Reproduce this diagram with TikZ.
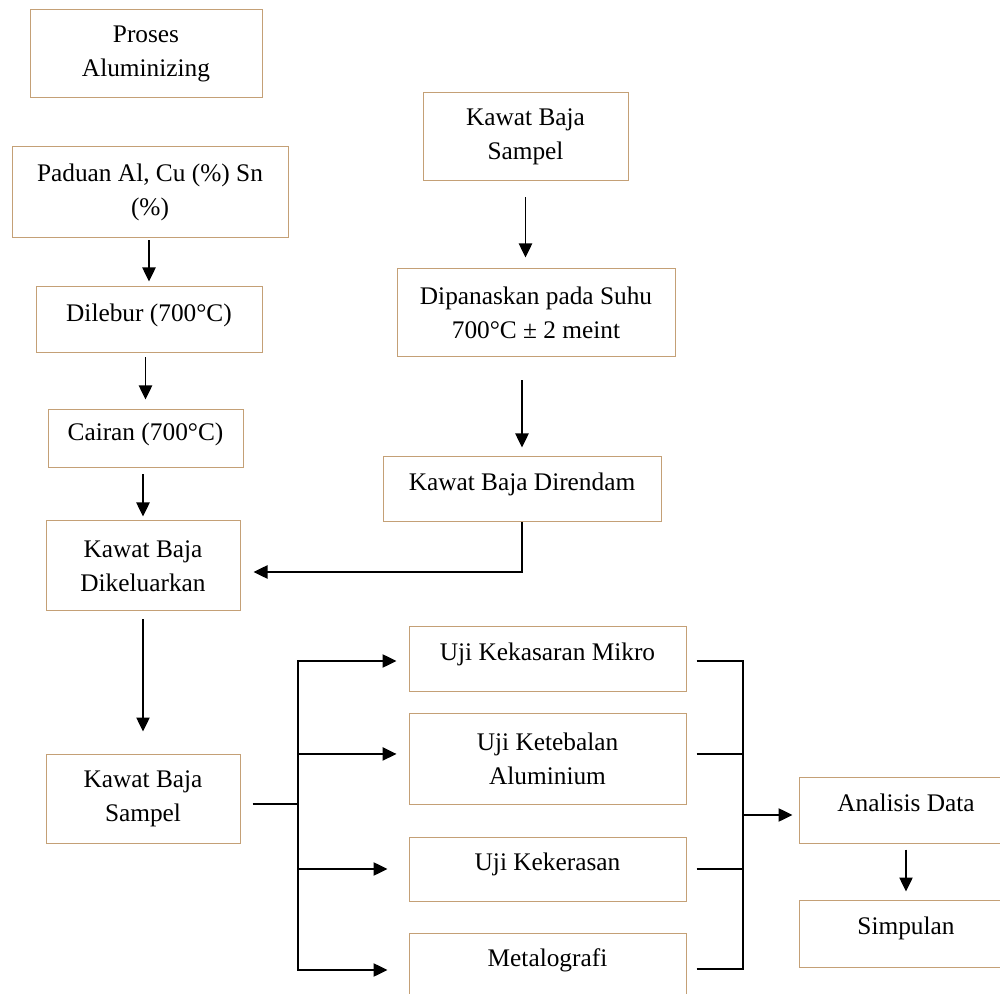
\documentclass[tikz,border=0pt]{standalone}
\usepackage{fontspec}
\setmainfont{Liberation Serif}
\usetikzlibrary{arrows.meta}
\definecolor{boxline}{RGB}{196,160,118}
\tikzset{every picture/.style={line width=0.75pt}}
\tikzset{
	box/.style={draw=boxline, line width=0.75pt, align=center, inner sep=0pt,
		font=\fontsize{19}{25.5}\selectfont},
	oneline/.style={text height=0.75em, text depth=0.59em},
	link/.style={line width=1pt},
	flow/.style={line width=1pt, -{Triangle[length=10.5pt,width=10pt]}}}

\begin{document}
\begin{tikzpicture}[x=0.75pt,y=0.75pt,yscale=-1,xscale=1]
	\useasboundingbox (0,0) rectangle (1000,994);

	% Left column
	\node [box, minimum width=174pt, minimum height=66pt] (proses) at (146,54) {Proses\\Aluminizing};
	\node [box, minimum width=207pt, minimum height=68.25pt] (paduan) at (150,192.5) {Paduan Al, Cu (\%) Sn\\(\%)};
	\node [box, oneline, minimum width=169.5pt, minimum height=49.5pt] (dilebur) at (149,320) {Dilebur (700°C)};
	\node [box, oneline, minimum width=146.25pt, minimum height=43.5pt] (cairan) at (145.5,439) {Cairan (700°C)};
	\node [box, minimum width=145.5pt, minimum height=67.5pt] (keluar) at (143,566) {Kawat Baja\\Dikeluarkan};
	\node [box, minimum width=145.5pt, minimum height=66.75pt] (sampelB) at (143,798.5) {Kawat Baja\\Sampel};

	% Right column
	\node [box, minimum width=153.75pt, minimum height=66pt] (sampelA) at (525.5,137) {Kawat Baja\\Sampel};
	\node [box, minimum width=208.5pt, minimum height=66pt] (panas) at (536,313) {Dipanaskan pada Suhu\\700°C ± 2 meint};
	\node [box, oneline, minimum width=208.5pt, minimum height=48.75pt] (rendam) at (522,489.5) {Kawat Baja Direndam};

	% Tests
	\node [box, oneline, minimum width=207.75pt, minimum height=48pt] (mikro) at (547.5,659) {Uji Kekasaran Mikro};
	\node [box, minimum width=207.75pt, minimum height=68.25pt] (tebal) at (547.5,758.5) {Uji Ketebalan\\Aluminium};
	\node [box, oneline, minimum width=207.75pt, minimum height=48pt] (keras) at (547.5,869) {Uji Kekerasan};
	\node [box, oneline, minimum width=207.75pt, minimum height=48pt] (metalo) at (547.5,965) {Metalografi};

	% Results
	\node [box, oneline, minimum width=160.5pt, minimum height=49.5pt] (analisis) at (906,810) {Analisis Data};
	\node [box, oneline, minimum width=160.5pt, minimum height=50.25pt] (simpulan) at (906,933.5) {Simpulan};

	% Arrows left column
	\draw [flow, shorten <=1.5pt, shorten >=3.75pt] (paduan.south -| dilebur) -- (dilebur.north);
	\draw [flow, shorten <=3pt, shorten >=7.5pt] (dilebur.south -| cairan) -- (cairan.north);
	\draw [flow, shorten <=4.5pt, shorten >=3pt] (cairan.south -| keluar) -- (keluar.north);
	\draw [flow, shorten <=6pt, shorten >=16.5pt] (keluar) -- (sampelB);

	% Arrows right column
	\draw [flow, shorten <=12pt, shorten >=8.25pt] (sampelA.south) -- (sampelA.south |- panas.north);
	\draw [flow, shorten <=17.25pt, shorten >=6.75pt] (panas.south -| rendam) -- (rendam.north);
	\draw [flow, shorten >=9.75pt] (rendam.south) |- ([yshift=4.5pt]keluar.east);

	% Split to tests
	\coordinate (split) at (298,804);
	\draw [link, shorten <=9pt] (sampelB.east |- split) -- (split);
	\draw [flow, shorten >=9pt] (split) |- ([yshift=1.5pt]mikro.west);
	\draw [flow, shorten >=9pt] (split) |- ([yshift=-3.4pt]tebal.west);
	\draw [flow, shorten >=15.75pt] (split) |- (keras.west);
	\draw [flow, shorten >=15.75pt] (split) |- ([yshift=3.75pt]metalo.west);

	% Merge to analysis
	\coordinate (merge) at (743,815);
	\draw [link, shorten <=7.5pt] ([yshift=1.5pt]mikro.east) -| (merge);
	\draw [link, shorten <=7.5pt] ([yshift=-3.4pt]tebal.east) -| (merge);
	\draw [link, shorten <=7.5pt] (keras.east) -| (merge);
	\draw [link, shorten <=7.5pt] ([yshift=3pt]metalo.east) -| (merge);
	\draw [flow, shorten >=4.5pt] (merge) -- (merge -| analisis.west);
	\draw [flow, shorten <=4.5pt, shorten >=6pt] (analisis) -- (simpulan);
\end{tikzpicture}
\end{document}
